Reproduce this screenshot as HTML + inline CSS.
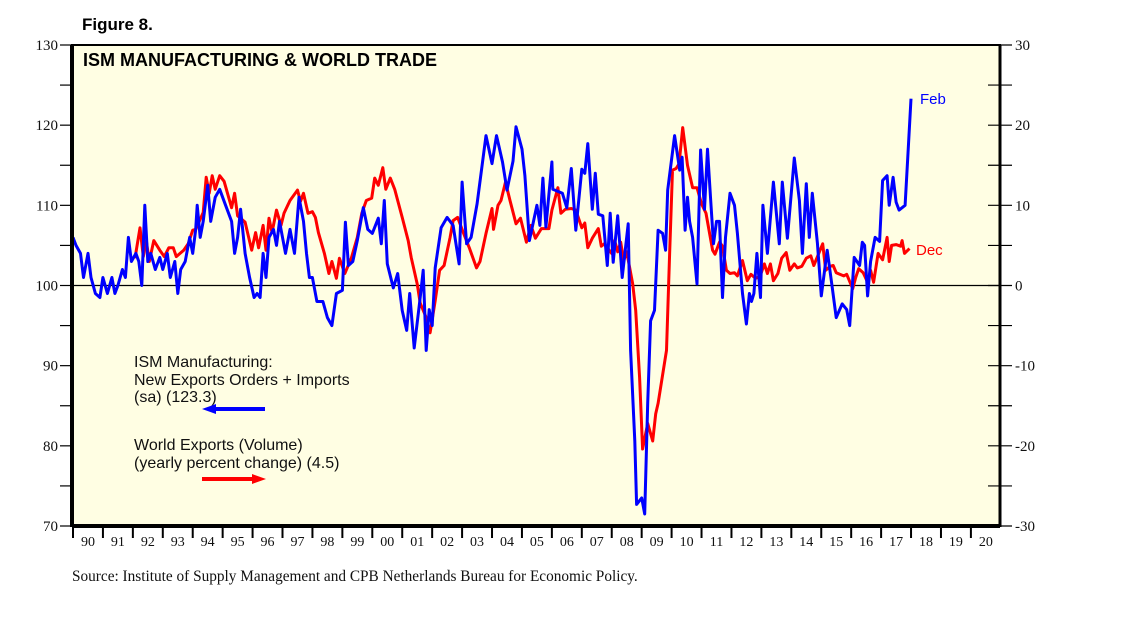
<!DOCTYPE html>
<html><head><meta charset="utf-8"><style>
body{margin:0;background:#fff;width:1138px;height:621px;overflow:hidden}
svg{display:block}
.sans{font-family:"Liberation Sans",Arial,sans-serif}
.serif{font-family:"Liberation Serif","Times New Roman",serif}
</style></head><body>
<svg id="chart" width="1138" height="621">
<text x="82" y="30" class="sans" font-size="17" font-weight="bold">Figure 8.</text>
<rect x="72" y="45" width="928" height="481" fill="#FFFEE3"/>
<g id="grid"></g>
<g id="series"></g>
<rect x="72" y="45" width="928" height="481" fill="none" stroke="#000" stroke-width="2"/>
<line x1="72" y1="45" x2="72" y2="527" stroke="#000" stroke-width="4"/>
<line x1="72" y1="526" x2="1000" y2="526" stroke="#000" stroke-width="4"/>
<line x1="1000" y1="45" x2="1000" y2="527" stroke="#000" stroke-width="3"/>
<g id="axes"></g>
<text x="83" y="66" class="sans" font-size="18" font-weight="bold">ISM MANUFACTURING &amp; WORLD TRADE</text>
<g class="sans" font-size="16" fill="#111">
<text x="134" y="367">ISM Manufacturing:</text>
<text x="134" y="385">New Exports Orders + Imports</text>
<text x="134" y="402">(sa) (123.3)</text>
<line x1="214" y1="409" x2="265" y2="409" stroke="#0000FF" stroke-width="4"/>
<polygon points="202,409 216,404 216,414" fill="#0000FF"/>
<text x="134" y="450">World Exports (Volume)</text>
<text x="134" y="468">(yearly percent change) (4.5)</text>
<line x1="202" y1="479" x2="253" y2="479" stroke="#FF0000" stroke-width="4"/>
<polygon points="266,479 252,474 252,484" fill="#FF0000"/>
</g>
<text x="920" y="104" class="sans" font-size="15" fill="#0000FF">Feb</text>
<text x="916" y="255" class="sans" font-size="15" fill="#FF0000">Dec</text>
<text x="72" y="581" class="serif" font-size="15.3" fill="#111">Source: Institute of Supply Management and CPB Netherlands Bureau for Economic Policy.</text>
</svg>
<script>
const ismDates=[1990.0,1990.1,1990.25,1990.35,1990.5,1990.6,1990.75,1990.9,1991.0,1991.15,1991.3,1991.4,1991.5,1991.65,1991.75,1991.85,1991.95,1992.1,1992.2,1992.3,1992.4,1992.5,1992.6,1992.75,1992.9,1993.0,1993.15,1993.25,1993.4,1993.5,1993.6,1993.75,1993.9,1994.0,1994.1,1994.15,1994.25,1994.35,1994.5,1994.6,1994.75,1994.9,1995.1,1995.3,1995.4,1995.5,1995.6,1995.75,1995.9,1996.05,1996.15,1996.25,1996.35,1996.45,1996.55,1996.7,1996.8,1996.9,1997.1,1997.25,1997.4,1997.55,1997.7,1997.8,1997.9,1998.0,1998.15,1998.35,1998.5,1998.65,1998.8,1999.0,1999.1,1999.2,1999.35,1999.5,1999.7,1999.85,2000.0,2000.2,2000.3,2000.4,2000.5,2000.7,2000.85,2001.0,2001.15,2001.25,2001.4,2001.6,2001.7,2001.8,2001.9,2002.0,2002.1,2002.3,2002.5,2002.7,2002.9,2003.0,2003.15,2003.3,2003.5,2003.8,2004.0,2004.15,2004.35,2004.5,2004.7,2004.8,2005.0,2005.1,2005.25,2005.5,2005.6,2005.7,2005.8,2006.0,2006.03,2006.35,2006.5,2006.65,2006.8,2007.0,2007.1,2007.2,2007.35,2007.45,2007.55,2007.7,2007.85,2007.95,2008.05,2008.2,2008.35,2008.55,2008.63,2008.77,2008.83,2009.0,2009.1,2009.2,2009.3,2009.43,2009.55,2009.7,2009.8,2009.87,2010.1,2010.27,2010.35,2010.45,2010.53,2010.6,2010.7,2010.85,2010.97,2011.1,2011.2,2011.3,2011.4,2011.5,2011.6,2011.7,2011.8,2011.95,2012.1,2012.2,2012.37,2012.5,2012.6,2012.67,2012.75,2012.85,2012.97,2013.05,2013.2,2013.4,2013.6,2013.7,2013.87,2014.1,2014.27,2014.37,2014.5,2014.6,2014.7,2014.87,2015.0,2015.2,2015.37,2015.5,2015.7,2015.85,2015.95,2016.1,2016.28,2016.37,2016.45,2016.55,2016.65,2016.8,2016.95,2017.05,2017.2,2017.27,2017.4,2017.5,2017.6,2017.8,2017.9,2018.0,2018.13];
const ismValues=[106,105,104,101,104,101,99,98.5,101,99,101,99,100,102,101,106,103,104,103,100,110,103,104,102,103.5,102,104,101,103,99,102,103,106,104,107,110,106,108,112.5,108,111,112,110,108,104,106,109.5,104,101,98.5,99,98.5,104,101,106,107,105,108,104,107,104,111,108,104,101,101,98,98,96,95,99,99.4,107.9,102.5,103,105.6,109.7,107,106.5,108.4,105.2,110.6,102.7,99.7,101.5,96.9,94.4,99,92.2,98.5,101.9,91.9,97,95,102.2,107.2,108.5,107.5,102.7,112.9,105.2,106,110.2,118.7,115.2,118.7,115.4,111.9,115.5,119.8,117,113.7,105.6,110,107.5,113.4,107.3,115.4,112,111.5,109.7,114.6,106.9,114.5,114,117.7,109.5,114,108.9,108.7,102.5,109,102.9,108.7,101,107.7,91.9,80.6,72.7,73.5,71.5,85.3,95.6,96.9,106.9,106.5,104.4,111.9,118.7,114.4,116,106.9,111,108,106,100.2,116.9,109.5,117,111,105.2,108,108,98.5,106,111.5,110,106.5,99,95.2,99,98,99,104,98.5,110,104,112.9,105.2,112.9,105.9,115.9,110.6,104,112.7,106,111.5,105.3,98.7,104.4,99.7,96,97.7,97,95,103.5,102.5,105.4,105,98.7,103,106,105.5,113.1,113.7,110,113.5,110.4,109.4,110,116.5,123.3];
const tradeDates=[1992.07,1992.24,1992.35,1992.45,1992.55,1992.7,1992.9,1993.05,1993.2,1993.35,1993.45,1993.7,1993.85,1994.0,1994.1,1994.35,1994.45,1994.55,1994.65,1994.75,1994.9,1995.05,1995.3,1995.4,1995.5,1995.75,1995.97,1996.1,1996.2,1996.35,1996.45,1996.55,1996.65,1996.8,1996.95,1997.05,1997.25,1997.5,1997.6,1997.7,1997.85,1998.0,1998.1,1998.2,1998.4,1998.55,1998.65,1998.8,1998.9,1999.08,1999.3,1999.5,1999.65,1999.8,1999.98,2000.08,2000.2,2000.35,2000.45,2000.6,2000.75,2001.0,2001.2,2001.3,2001.5,2001.6,2001.8,2001.93,2002.1,2002.25,2002.4,2002.6,2002.7,2002.85,2003.05,2003.25,2003.48,2003.6,2003.8,2004.0,2004.05,2004.2,2004.3,2004.45,2004.6,2004.8,2004.95,2005.15,2005.3,2005.45,2005.65,2005.9,2006.0,2006.2,2006.3,2006.45,2006.65,2006.8,2007.0,2007.1,2007.2,2007.35,2007.55,2007.65,2007.75,2008.0,2008.1,2008.2,2008.3,2008.4,2008.5,2008.7,2008.8,2008.93,2009.03,2009.2,2009.37,2009.47,2009.55,2009.83,2009.93,2010.03,2010.15,2010.25,2010.37,2010.53,2010.7,2010.85,2011.0,2011.15,2011.37,2011.45,2011.6,2011.7,2011.83,2011.95,2012.1,2012.2,2012.37,2012.53,2012.65,2012.8,2012.95,2013.1,2013.2,2013.3,2013.4,2013.55,2013.68,2013.83,2013.95,2014.1,2014.2,2014.35,2014.5,2014.65,2014.75,2015.05,2015.15,2015.3,2015.4,2015.5,2015.75,2015.85,2016.05,2016.15,2016.25,2016.4,2016.55,2016.65,2016.75,2016.9,2017.05,2017.2,2017.27,2017.35,2017.5,2017.65,2017.7,2017.78,2017.95];
const tradeValues=[3.4,7.2,3.6,5.6,3,5.6,4.4,3.6,4.7,4.7,3.6,4.4,5.2,6.9,7,9.1,13.5,11.5,13.7,12,13.7,13,9.7,11.5,8.7,7.9,4.4,6.6,4.7,7.5,4.4,8.4,6.6,9.4,7.5,9,10.6,11.9,10.5,11.5,9,9.2,8.5,6.6,4,1.5,3,0.9,3.4,1.5,3.4,6,9,10.6,10.9,13.4,12.5,14.7,12,13.4,12,8.5,5.6,3.5,0.2,-2.2,-4,-5.9,-1.9,1.9,2.5,6,8.1,8.5,6.5,4.6,2.2,3,6.5,9.6,7,10,10.6,12.9,10.6,7.7,8.4,5.4,7.5,5.9,7.1,7.1,9.4,12.2,9,9.5,9.6,9.4,7.2,7.8,4.7,5.9,7.1,4.9,5.2,4,5.6,4.2,5.4,3.1,4.2,0.2,-3.1,-11.5,-20.4,-17.2,-19.4,-16,-14.7,-8.1,3.5,14.4,14.6,15.2,19.7,15,12.2,12.2,10.2,9,4.4,3.9,5.4,4.9,1.9,1.5,1.6,1.2,3.1,0.6,1.4,0.9,1.1,2.7,1.5,2.7,0.6,1.5,3.4,4.1,1.9,2.7,2.2,2.4,3.4,3.7,2.5,5.2,1.9,2.4,2.5,1.6,1.2,1.4,-0.4,1,2.1,1.6,0.4,1.9,0.4,4,3.2,6,3,5,5.1,4.9,5.6,4,4.6];
const leftTicks=["70","80","90","100","110","120","130"];
const rightTicks=["-30","-20","-10","0","10","20","30"];
const yearLabels=["90","91","92","93","94","95","96","97","98","99","00","01","02","03","04","05","06","07","08","09","10","11","12","13","14","15","16","17","18","19","20"];

const NS="http://www.w3.org/2000/svg";
const X0=73,YW=29.93,Y0=45,YH=481;
function xs(t){return X0+(t-1990)*YW;}
function yL(v){return Y0+(130-v)/60*YH;}
function yR(v){return Y0+(30-v)/60*YH;}
function mk(tag,attrs,parent){const e=document.createElementNS(NS,tag);for(const k in attrs)e.setAttribute(k,attrs[k]);parent.appendChild(e);return e;}
const axes=document.getElementById('axes'),series=document.getElementById('series'),grid=document.getElementById('grid');

const zero=mk('line',{x1:72,x2:1000,y1:yR(0),y2:yR(0),stroke:'#000','stroke-width':1.2},grid);



for(let v=70;v<=130;v+=5){
  const t=mk('line',{x1:60,x2:72,y1:yL(v),y2:yL(v),stroke:'#000','stroke-width':1.2},axes);
  
  
  const r=mk('line',{x1:988,x2:1012,y1:yL(v),y2:yL(v),stroke:'#000','stroke-width':1.2},axes);
  
  
}
leftTicks.forEach(s=>{
  const t=mk('text',{x:58,y:yL(+s)+5,'text-anchor':'end','font-size':15,'class':'serif',fill:'#111'},axes);
  t.textContent=s;
  
  
});
rightTicks.forEach(s=>{
  const t=mk('text',{x:1015,y:yR(+s)+5,'font-size':15,'class':'serif',fill:'#111'},axes);
  t.textContent=s;
  
  
});
yearLabels.forEach((s,i)=>{
  const tk=mk('line',{x1:xs(1990+i),x2:xs(1990+i),y1:526,y2:538,stroke:'#000','stroke-width':2},axes);
  
  
  const t=mk('text',{x:xs(1990.5+i),y:546,'text-anchor':'middle','font-size':14,'class':'serif',fill:'#111'},axes);
  t.textContent=s;
  
  
});
function path(dates,vals,yf){return dates.map((d,i)=>(i?'L':'M')+xs(d).toFixed(1)+','+yf(vals[i]).toFixed(1)).join('');}
const red=mk('path',{d:path(tradeDates,tradeValues,yR),fill:'none',stroke:'#FF0000','stroke-width':3,'stroke-linejoin':'round'},series);


const blue=mk('path',{d:path(ismDates,ismValues,yL),fill:'none',stroke:'#0000FF','stroke-width':3,'stroke-linejoin':'round'},series);


</script>
</body></html>
